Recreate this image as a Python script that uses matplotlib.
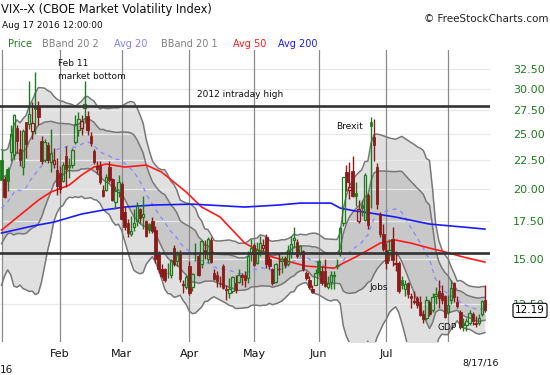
import numpy as np
import pandas as pd
import matplotlib
matplotlib.use("Agg")
import matplotlib.pyplot as plt

W, H = 550, 375

# last 19 closes of Dec 2015 (needed for the 20-day bands at the start)
dec_close = [14.81, 15.84, 17.60, 19.61, 19.34, 24.39, 22.73, 20.95, 17.86, 18.94,
             20.70, 19.34, 16.60, 15.57, 15.74, 16.91, 16.08, 17.29, 18.21]

# trading days per month, Jan .. Aug 17 2016
month_days = [19, 20, 22, 21, 21, 22, 20, 13]
month_names = ["Jan", "Feb", "Mar", "Apr", "May", "Jun", "Jul", "Aug"]

opens = [22.48, 20.75, 21.67, 23.22, 22.96, 25.58, 23.44, 21.85, 26.21, 26.00,
         25.30, 27.90, 28.00, 24.30, 22.50, 23.90, 22.30, 22.10, 21.60,
         21.30, 20.60, 22.80, 22.00, 22.00, 24.20, 25.40, 25.60, 27.70, 26.80,
         24.80, 23.30, 21.90, 21.90, 19.90, 19.90, 21.80, 20.80, 18.90, 19.70,
         20.40, 18.20, 17.40, 16.60, 17.10, 17.50, 18.40, 17.80, 17.50, 17.30,
         17.50, 16.90, 15.30, 14.40, 14.40, 14.20, 14.10, 15.70, 14.90, 15.40,
         13.50, 13.40,
         14.60, 13.40, 15.40, 15.20, 14.70, 15.60, 15.00, 16.20, 14.20, 14.10,
         13.60, 14.60, 13.30, 13.10, 13.20, 13.60, 13.70, 14.10, 14.10, 13.90,
         15.40,
         15.90, 14.80, 15.40, 15.70, 16.40, 15.00, 14.40, 13.70, 14.40, 14.90,
         15.10, 14.70, 15.40, 16.20, 16.10, 15.40, 15.50, 14.20, 13.80, 13.30,
         13.50,
         14.90, 14.30, 14.30, 13.40, 13.70, 14.00, 14.60, 15.40, 17.40, 21.40,
         19.90, 21.50, 19.60, 17.50, 18.70, 17.60, 19.50, 26.20, 24.70, 21.80,
         18.00, 16.60,
         15.60, 15.40, 16.30, 14.70, 14.80, 13.80, 13.30, 13.60, 12.90, 12.60,
         12.80, 12.60, 12.00, 11.80, 12.60, 12.20, 12.90, 13.20, 13.10, 12.90,
         12.10, 12.70, 13.60, 12.60, 12.10, 11.60, 11.50, 11.60, 12.00, 11.60,
         11.60, 12.00, 12.70]
highs = [23.36, 21.06, 21.86, 25.86, 27.08, 25.87, 25.39, 25.44, 26.25, 30.95,
         28.40, 32.09, 28.50, 24.80, 24.50, 24.20, 25.50, 23.60, 22.60,
         21.90, 22.30, 23.80, 22.60, 23.60, 26.95, 27.33, 27.00, 30.90, 27.40,
         25.20, 23.50, 22.40, 22.40, 20.30, 21.20, 22.40, 20.90, 20.20, 21.10,
         20.50, 18.60, 17.70, 17.90, 18.40, 18.90, 18.50, 19.40, 17.60, 17.40,
         17.80, 17.20, 15.50, 14.70, 14.50, 14.80, 15.00, 15.90, 15.50, 15.60,
         13.80, 14.10,
         14.90, 14.20, 16.00, 15.30, 16.20, 16.20, 16.40, 16.40, 14.40, 14.30,
         14.00, 14.70, 13.50, 13.90, 14.00, 14.10, 14.40, 14.20, 14.30, 15.50,
         16.30,
         16.00, 16.10, 16.50, 16.30, 16.60, 15.20, 14.50, 14.80, 15.40, 15.20,
         15.20, 15.90, 16.50, 17.10, 16.30, 15.90, 15.60, 14.30, 14.00, 13.50,
         14.40,
         15.00, 14.60, 15.00, 14.00, 14.30, 14.30, 15.00, 17.20, 21.00, 22.00,
         22.30, 22.80, 20.50, 19.10, 19.10, 21.30, 19.60, 26.72, 26.50, 22.20,
         18.20, 17.30,
         16.00, 16.30, 17.10, 15.50, 14.90, 14.00, 13.80, 13.70, 13.10, 13.20,
         12.90, 12.90, 12.20, 12.90, 12.70, 13.10, 13.40, 13.80, 13.50, 12.95,
         13.00, 13.80, 13.70, 12.90, 12.20, 11.80, 11.80, 12.20, 12.10, 11.90,
         12.00, 12.70, 13.50]
lows = [20.67, 19.25, 19.80, 22.40, 22.48, 23.14, 21.95, 21.10, 22.68, 25.50,
        24.50, 25.00, 25.90, 22.10, 22.30, 22.20, 21.40, 21.70, 19.50,
        19.60, 20.50, 20.10, 20.90, 21.70, 24.00, 24.80, 24.90, 26.10, 24.90,
        23.80, 22.10, 21.20, 20.40, 19.30, 19.80, 20.50, 19.00, 18.40, 19.30,
        17.60, 16.90, 16.40, 16.50, 16.80, 17.20, 17.40, 17.00, 16.40, 16.70,
        16.70, 14.80, 14.20, 13.90, 13.70, 13.90, 13.90, 14.60, 14.60, 13.70,
        13.10, 13.30,
        13.00, 13.20, 14.90, 14.00, 14.50, 15.00, 14.80, 14.80, 13.80, 13.40,
        13.40, 13.30, 12.70, 12.80, 13.10, 13.10, 13.60, 13.50, 13.40, 13.60,
        14.90,
        14.60, 14.70, 15.20, 15.50, 14.50, 14.40, 13.50, 13.60, 14.10, 14.20,
        14.50, 14.60, 15.10, 15.70, 15.10, 15.20, 14.30, 13.80, 13.30, 13.10,
        13.50,
        14.00, 13.50, 13.40, 13.30, 13.30, 13.30, 14.40, 15.20, 17.20, 19.80,
        19.20, 19.30, 18.60, 17.40, 17.90, 17.50, 17.00, 18.50, 22.40, 18.40,
        16.40, 15.50,
        14.40, 14.90, 14.60, 14.30, 13.10, 13.30, 12.90, 12.80, 12.30, 12.50,
        12.30, 11.90, 11.60, 11.70, 11.90, 12.10, 12.50, 12.30, 12.50, 11.80,
        12.00, 12.50, 12.60, 12.30, 11.30, 11.20, 11.20, 11.50, 11.50, 11.40,
        11.50, 11.90, 12.10]
closes = [20.70, 19.34, 20.59, 24.99, 27.01, 24.30, 22.47, 25.22, 23.95, 27.02,
          26.05, 27.59, 26.69, 22.34, 24.15, 22.50, 23.11, 22.42, 20.20,
          19.98, 21.98, 21.65, 21.84, 23.38, 26.00, 26.54, 26.29, 28.14, 25.40,
          24.11, 22.31, 21.64, 20.53, 19.38, 20.98, 20.72, 19.11, 19.81, 20.55,
          17.70, 17.09, 16.70, 16.86, 17.35, 18.67, 17.72, 18.05, 16.50, 16.92,
          16.84, 14.99, 14.44, 14.02, 13.79, 14.17, 14.94, 14.74, 15.24, 13.82,
          13.56, 13.95,
          13.10, 14.12, 15.42, 14.09, 16.16, 15.36, 16.26, 14.85, 13.84, 13.72,
          13.62, 13.35, 13.24, 13.28, 13.95, 13.22, 14.08, 13.96, 13.77, 15.22,
          15.70,
          14.68, 15.60, 16.05, 15.91, 14.72, 14.57, 13.63, 14.69, 14.41, 15.04,
          14.68, 15.57, 15.95, 16.33, 15.20, 15.82, 14.42, 13.90, 13.43, 13.12,
          14.19,
          14.20, 13.63, 13.47, 13.65, 14.05, 14.08, 14.64, 17.03, 20.97, 20.50,
          20.14, 19.37, 19.41, 18.37, 18.48, 21.17, 17.25, 25.76, 23.85, 18.75,
          16.64, 15.63,
          14.77, 15.58, 14.96, 14.76, 13.20, 13.54, 13.55, 13.04, 12.82, 12.67,
          12.44, 11.97, 11.77, 12.74, 12.02, 12.87, 13.05, 12.83, 12.72, 11.87,
          12.44, 13.37, 12.86, 12.42, 11.39, 11.50, 11.66, 12.05, 11.68, 11.55,
          11.81, 12.64, 12.19]

# moving averages (bar index, value)
avg50_idx = [0, 6, 12, 16, 22, 26, 30, 34, 40, 47, 52, 60, 65, 71, 75, 79, 82, 88,
             94, 99, 104, 108, 111, 115, 119, 123, 128, 133, 139, 143, 150, 157]
avg50_val = [16.89, 17.95, 19.08, 19.71, 20.28, 21.12, 21.82, 22.09, 21.82, 22.00,
             21.38, 19.71, 18.55, 17.81, 16.89, 16.02, 15.70, 15.14, 14.83, 14.59,
             14.53, 14.47, 14.77, 15.14, 15.57, 16.02, 16.22, 16.02, 15.70, 15.51,
             15.14, 14.83]
avg200_idx = [0, 10, 17, 26, 33, 40, 49, 62, 79, 90, 97, 107, 110, 115, 118, 128,
              139, 150, 157]
avg200_val = [16.69, 17.17, 17.45, 18.03, 18.32, 18.55, 18.70, 18.77, 18.55, 18.70,
              18.85, 18.85, 18.47, 18.25, 18.17, 17.81, 17.31, 17.10, 16.96]

hlines = [28.0, 15.4]
yticks = [12.5, 15.0, 17.5, 20.0, 22.5, 25.0, 27.5, 30.0, 32.5]
last_price = 12.19

GREEN = "#1f7a1f"
RED = "#8b1a1a"

o = np.array(opens); hi = np.array(highs); lo = np.array(lows); c = np.array(closes)
x = np.arange(len(c))

# bollinger bands 20
allc = pd.Series(dec_close + closes)
mid = allc.rolling(20).mean().iloc[19:].to_numpy()
sd = allc.rolling(20).std(ddof=0).iloc[19:].to_numpy()

def px(xp):
    return xp / W

def py(yp):
    return 1 - yp / H

fig = plt.figure(figsize=(W / 100, H / 100), dpi=100)
ax = fig.add_axes([0, py(342), px(490), (342 - 50) / H])
ax.set_yscale("log")
ax.set_ylim(10.72, 35.11)
ax.set_xlim(-0.49, 158.65)
for s in ax.spines.values():
    s.set_visible(False)

# bands
ax.fill_between(x, mid - 2 * sd, mid + 2 * sd, color="#e0e0e0", lw=0, zorder=1)
ax.fill_between(x, mid - sd, mid + sd, color="#c8c8c8", lw=0, zorder=1.1)

# grid
for v in yticks:
    ax.axhline(v, color="#e9e9e9", lw=0.9, zorder=1.5)
starts = np.cumsum([0] + month_days[:-1])
for s in starts:
    ax.axvline(s, color="#8a8a8a", lw=0.9, zorder=1.6)

for band in [mid + 2 * sd, mid + sd, mid - sd, mid - 2 * sd]:
    ax.plot(x, band, color="#787878", lw=1.1, zorder=2)
ax.plot(x, mid, color="#8c8cff", lw=1.0, ls=(0, (3, 3)), zorder=2.2)
ax.plot(avg50_idx, avg50_val, color="#ff1a1a", lw=1.2, zorder=2.3)
ax.plot(avg200_idx, avg200_val, color="#1a1aff", lw=1.2, zorder=2.3)

# candles
prev = np.r_[dec_close[-1], c[:-1]]
col = np.where(c >= prev, GREEN, RED)
top = np.maximum(o, c)
bot = np.minimum(o, c)
ax.vlines(x, top, hi, colors=col, lw=1.0, zorder=3)
ax.vlines(x, lo, bot, colors=col, lw=1.0, zorder=3)
filled = c < o
ax.bar(x[filled], (top - bot)[filled], bottom=bot[filled], width=0.8,
       color=col[filled], edgecolor=col[filled], lw=0.6, zorder=3.1)
ax.bar(x[~filled], (top - bot)[~filled], bottom=bot[~filled], width=0.8,
       facecolor="none", edgecolor=col[~filled], lw=0.9, zorder=3.1)

for v in hlines:
    ax.axhline(v, color="#333333", lw=1.9, zorder=4)

# axes labels
ax.yaxis.tick_right()
ax.yaxis.set_minor_locator(matplotlib.ticker.NullLocator())
ax.set_yticks(yticks)
ax.set_yticklabels(["%.2f" % v for v in yticks])
ax.tick_params(axis="y", length=0, pad=16.5, labelsize=8, labelcolor=GREEN)
ax.set_xticks(starts[1:-1])
ax.set_xticklabels(month_names[1:-1])
ax.tick_params(axis="x", length=0, pad=5, labelsize=8, labelcolor="#111111")

ax.text(530 / 490, last_price, "%.2f" % last_price, transform=ax.get_yaxis_transform(),
        ha="center", va="center", fontsize=7.5, clip_on=False, zorder=10,
        bbox=dict(boxstyle="round,pad=0.2", fc="white", ec="black", lw=0.8))

# header texts
fig.text(px(1), py(13), "VIX--X (CBOE Market Volatility Index)", fontsize=8.3,
         va="baseline", color="#111111")
fig.text(px(2), py(28), "Aug 17 2016 12:00:00", fontsize=6.5, va="baseline",
         color="#111111")
fig.text(px(548), py(21.5), "\u00a9 FreeStockCharts.com", fontsize=7.5, ha="right",
         va="baseline", color="#222222")
legend = [("Price", 8, GREEN), ("BBand 20 2", 42, "#808080"), ("Avg 20", 114, "#8080ff"),
          ("BBand 20 1", 161, "#808080"), ("Avg 50", 233, "#ff1a1a"),
          ("Avg 200", 278, "#1a1aff")]
for txt, xp, cl in legend:
    fig.text(px(xp), py(47), txt, fontsize=7, va="baseline", color=cl)

# notes on the chart
notes = [("Feb 11", 58, 66), ("market bottom", 58, 79), ("2012 intraday high", 197, 97),
         ("Brexit", 336, 129), ("Jobs", 369, 290), ("GDP", 438, 330)]
for txt, xp, yp in notes:
    fig.text(px(xp), py(yp), txt, fontsize=6.5, va="baseline", color="#111111", zorder=5)

fig.text(px(0), py(373), "16", fontsize=7.5, va="baseline", color="#111111")
fig.text(px(462), py(366), "8/17/16", fontsize=6.8, va="baseline", color="#111111")

fig.savefig("out.png", dpi=100)
